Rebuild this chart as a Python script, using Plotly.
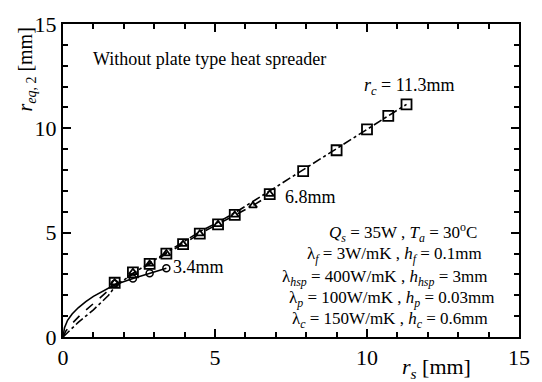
import plotly.graph_objects as go

# Marker data
sq_x = [1.7, 2.3, 2.85, 3.4, 3.95, 4.5, 5.1, 5.65, 6.8, 7.9, 9.0, 10.0, 10.7, 11.3]
sq_y = [2.6, 3.1, 3.5, 4.0, 4.45, 4.95, 5.4, 5.85, 6.85, 7.95, 8.95, 9.95, 10.6, 11.15]
tri_x = [1.7, 2.3, 2.85, 3.4, 3.95, 4.5, 5.1, 5.65, 6.25, 6.8]
tri_y = [2.6, 3.1, 3.5, 4.0, 4.45, 4.95, 5.4, 5.85, 6.3, 6.85]
cir_x = [1.7, 2.3, 2.85, 3.4]
cir_y = [2.55, 2.8, 3.05, 3.3]

# Curves
solid_x = [0, 0.05, 0.15, 0.3, 0.5, 0.75, 1.0, 1.3, 1.7, 2.3, 2.85, 3.4]
solid_y = [0, 0.45, 0.8, 1.1, 1.4, 1.7, 1.95, 2.2, 2.5, 2.8, 3.05, 3.3]
dash_x = [0, 0.1, 0.3, 0.6, 1.0, 1.4, 1.7, 2.3, 2.85, 3.4, 3.95, 4.5, 5.1, 5.65, 6.25, 6.8]
dash_y = [0, 0.3, 0.65, 1.1, 1.6, 2.1, 2.5, 3.05, 3.5, 4.0, 4.45, 4.95, 5.4, 5.85, 6.3, 6.8]
dd_x = [0, 0.2, 0.5, 1.0, 1.5, 1.7, 2.3, 2.85, 3.4, 3.95, 4.5, 5.1, 5.65, 6.8, 7.9, 9.0, 10.0, 10.7, 11.3]
dd_y = [0, 0.3, 0.7, 1.3, 2.0, 2.4, 3.05, 3.55, 4.05, 4.55, 5.05, 5.5, 5.95, 7.0, 8.0, 9.0, 9.95, 10.6, 11.15]

x_ticks = [0, 5, 10, 15]
y_ticks = [0, 5, 10, 15]

FONT = "Liberation Serif"

fig = go.Figure()
fig.add_trace(go.Scatter(x=dd_x, y=dd_y, mode="lines",
                         line=dict(color="black", width=1.6, dash="dashdot")))
fig.add_trace(go.Scatter(x=dash_x, y=dash_y, mode="lines",
                         line=dict(color="black", width=1.6, dash="dash")))
fig.add_trace(go.Scatter(x=solid_x, y=solid_y, mode="lines",
                         line=dict(color="black", width=1.6)))
fig.add_trace(go.Scatter(x=sq_x, y=sq_y, mode="markers",
                         marker=dict(symbol="square-open", size=10, color="black",
                                     line=dict(width=1.8))))
fig.add_trace(go.Scatter(x=tri_x, y=tri_y, mode="markers",
                         marker=dict(symbol="triangle-up-open", size=7, color="black",
                                     line=dict(width=1.8))))
fig.add_trace(go.Scatter(x=cir_x, y=cir_y, mode="markers",
                         marker=dict(symbol="circle-open", size=7, color="black",
                                     line=dict(width=1.5))))

axis_common = dict(
    showgrid=False, zeroline=False, showline=True, linecolor="black", linewidth=2,
    mirror="allticks", ticks="inside", ticklen=8, tickwidth=1.5, tickcolor="black",
    tickfont=dict(family=FONT, size=22, color="black"),
    minor=dict(dtick=1, ticks="inside", ticklen=5, tickwidth=1.5, tickcolor="black"),
)
fig.update_xaxes(range=[0, 15], tickvals=x_ticks, ticktext=[str(v) for v in x_ticks], **axis_common)
fig.update_yaxes(range=[0, 15], tickvals=y_ticks, ticktext=[str(v) for v in y_ticks], **axis_common)

ann = []
def txt(x, y, t, size=15, xanchor="left", xref="x", yref="y", angle=0):
    ann.append(dict(x=x, y=y, xref=xref, yref=yref, text=t, showarrow=False,
                    xanchor=xanchor, yanchor="middle", textangle=angle,
                    font=dict(family=FONT, size=size, color="black")))

txt(0.92, 13.33, "Without plate type heat spreader", 18)
txt(9.83, 12.0, "<i>r</i><sub><i>c</i></sub> = 11.3mm", 18)
txt(7.25, 6.72, "6.8mm", 18)
txt(3.55, 3.37, "3.4mm", 18)

txt(11.2, 5.02, "<i>Q</i><sub><i>s</i></sub> = 35W , <i>T</i><sub><i>a</i></sub> = 30<sup>o</sup>C", 17, "center")
txt(10.89, 3.92, "λ<sub><i>f</i></sub> = 3W/mK , <i>h</i><sub><i>f</i></sub> = 0.1mm", 17, "center")
txt(10.59, 2.85, "λ<sub><i>hsp</i></sub> = 400W/mK , <i>h</i><sub><i>hsp</i></sub> = 3mm", 17, "center")
txt(10.82, 1.8, "λ<sub><i>p</i></sub> = 100W/mK , <i>h</i><sub><i>p</i></sub> = 0.03mm", 17, "center")
txt(10.77, 0.8, "λ<sub><i>c</i></sub> = 150W/mK , <i>h</i><sub><i>c</i></sub> = 0.6mm", 17, "center")

txt(-0.082, 0.853, "<i>r</i><sub><i>eq</i>, 2</sub> [mm]", 20, "center", "paper", "paper", -90)
txt(0.82, -0.1, "<i>r</i><sub><i>s</i></sub> [mm]", 22, "center", "paper", "paper")

fig.update_layout(
    width=542, height=382,
    margin=dict(l=63, r=17, t=21, b=39),
    paper_bgcolor="white", plot_bgcolor="white",
    showlegend=False, annotations=ann,
    font=dict(family=FONT, color="black"),
)

fig.write_html("out.html")
